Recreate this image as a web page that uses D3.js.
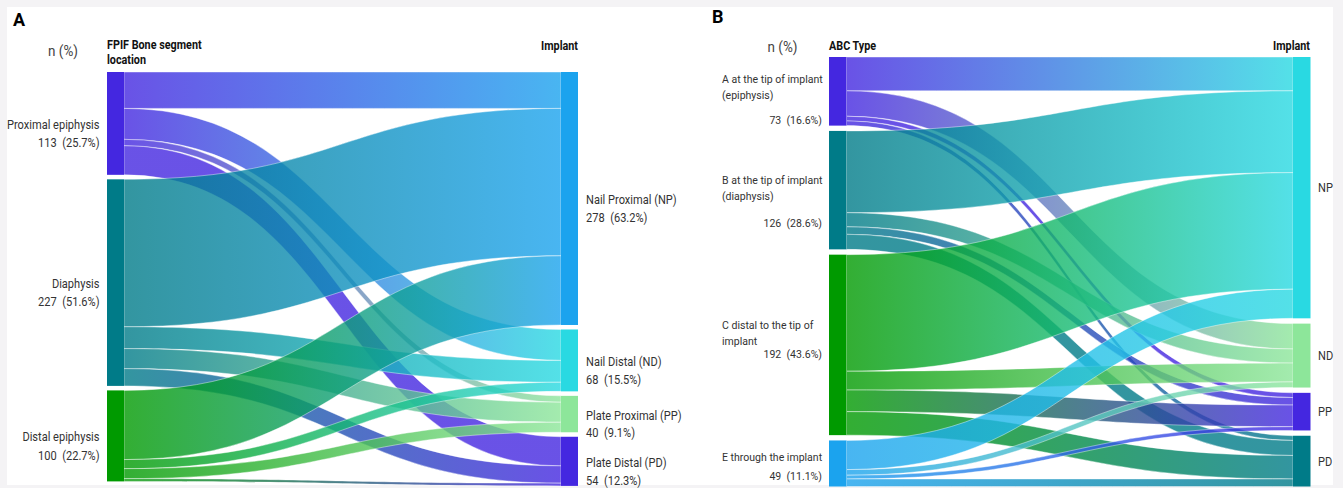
<!DOCTYPE html>
<html><head><meta charset="utf-8">
<script src="https://cdn.jsdelivr.net/npm/d3@7"></script>
<style>
body{margin:0;background:#fff}
svg{display:block}
text{font-family:Roboto,"Noto Sans",sans-serif}
</style>
</head><body>
<svg id="chart" width="1343" height="488"></svg>
<script>
// ---------- DATA ----------
// Panel A
const aSources = ["Proximal epiphysis", "Diaphysis", "Distal epiphysis"];
const aTargets = ["Nail Proximal (NP)", "Nail Distal (ND)", "Plate Proximal (PP)", "Plate Distal (PD)"];
// rows = sources, columns = targets (NP, ND, PP, PD)
const aProximal = [40, 34, 7, 32];
const aDiaphysis = [162, 24, 22, 19];
const aDistal = [76, 10, 11, 3];

// Panel B
const bSourceLines = [
  ["A at the tip of implant", "(epiphysis)"],
  ["B at the tip of implant", "(diaphysis)"],
  ["C distal to the tip of", "implant"],
  ["E through the implant"]
];
const bTargets = ["NP", "ND", "PP", "PD"];
const bTypeA = [36, 27, 5, 5];
const bTypeB = [87, 15, 8, 16];
const bTypeC = [124, 20, 23, 25];
const bTypeE = [31, 6, 4, 8];

// ---------- STYLE / LAYOUT ----------
const PURPLE = "#4427e0", TEAL = "#007b88", GREEN = "#009a00", BLUE = "#1ba3ee",
      CYAN = "#29d9e2", LGREEN = "#8de69a";
const SX = 0.9; // horizontal condensing of the font

const svg = d3.select("#chart");
svg.append("rect").attr("width", 1343).attr("height", 488).attr("fill", "#f4f3f5");
svg.append("rect").attr("x", 7).attr("y", 7).attr("width", 1326).attr("height", 478).attr("fill", "#fff");
const defs = svg.append("defs");
let gradId = 0;

function addText(g, x, y, str, o = {}) {
  return g.append("text")
    .attr("transform", `translate(${x},${y}) scale(${o.sx ?? SX},1)`)
    .attr("text-anchor", o.anchor || "start")
    .attr("dominant-baseline", "central")
    .attr("font-size", o.size || 12.3)
    .attr("font-weight", o.weight || 400)
    .attr("fill", o.color || "#333")
    .text(str);
}

function drawSankey(cfg) {
  const g = svg.append("g");
  const flows = cfg.flows;
  const nS = flows.length, nT = flows[0].length;
  const sVals = flows.map(r => d3.sum(r));
  const tVals = d3.range(nT).map(j => d3.sum(flows, r => r[j]));
  const total = d3.sum(sVals);
  const h = d3.scaleLinear().domain([0, total]).range([0, total * cfg.ky]);

  const stack = (vals, gap) => {
    let cum = 0;
    return vals.map((v, i) => {
      const y0 = cfg.top + h(cum) + i * gap;
      cum += v;
      return { y0, y1: y0 + h(v), value: v };
    });
  };
  const sNodes = stack(sVals, cfg.gapS);
  const tNodes = stack(tVals, cfg.gapT);
  sNodes.forEach((n, i) => n.color = cfg.sColors[i]);
  tNodes.forEach((n, j) => n.color = cfg.tColors[j]);

  const xs = cfg.xL + cfg.nodeW, xt = cfg.xR;
  const sOff = sNodes.map(n => n.y0);
  const tOff = tNodes.map(n => n.y0);
  const links = [];
  for (let i = 0; i < nS; i++) for (let j = 0; j < nT; j++) {
    const v = flows[i][j];
    if (!v) continue;
    const sy0 = sOff[i], ty0 = tOff[j];
    sOff[i] += h(v); tOff[j] += h(v);
    links.push({ i, j, sy0, sy1: sy0 + h(v), ty0, ty1: ty0 + h(v) });
  }
  const xm = (xs + xt) / 2;
  links.forEach(l => {
    const id = "lg" + (gradId++);
    const gr = defs.append("linearGradient").attr("id", id)
      .attr("gradientUnits", "userSpaceOnUse")
      .attr("x1", xs).attr("x2", xt).attr("y1", 0).attr("y2", 0);
    gr.append("stop").attr("offset", "0%").attr("stop-color", sNodes[l.i].color);
    gr.append("stop").attr("offset", "100%").attr("stop-color", tNodes[l.j].color);
    const p = d3.path();
    p.moveTo(xs, l.sy0);
    p.bezierCurveTo(xm, l.sy0, xm, l.ty0, xt, l.ty0);
    p.lineTo(xt, l.ty1);
    p.bezierCurveTo(xm, l.ty1, xm, l.sy1, xs, l.sy1);
    p.closePath();
    g.append("path").attr("d", p.toString())
      .attr("fill", `url(#${id})`).attr("fill-opacity", 0.8)
      .attr("stroke", "#fff").attr("stroke-opacity", 0.7).attr("stroke-width", 0.6);
  });
  g.selectAll("rect.s").data(sNodes).join("rect")
    .attr("x", cfg.xL).attr("y", d => d.y0).attr("width", cfg.nodeW)
    .attr("height", d => d.y1 - d.y0).attr("fill", d => d.color);
  g.selectAll("rect.t").data(tNodes).join("rect")
    .attr("x", xt).attr("y", d => d.y0).attr("width", cfg.nodeW)
    .attr("height", d => d.y1 - d.y0).attr("fill", d => d.color);
  return { g, sNodes, tNodes, total };
}

const pct = (v, t) => `${v}\u00a0\u00a0(${d3.format(".1f")(v / t * 100)}%)`;

// ---------- PANEL A ----------
const A = drawSankey({
  flows: [aProximal, aDiaphysis, aDistal],
  sColors: [PURPLE, TEAL, GREEN], tColors: [BLUE, CYAN, LGREEN, PURPLE],
  xL: 107, xR: 561, nodeW: 17, top: 72, ky: 0.91, gapS: 4.5, gapT: 4.5
});
addText(svg, 13, 19, "A", { size: 18, weight: 700, color: "#000", sx: 1 });
addText(svg, 63, 51, "n (%)", { size: 15, anchor: "middle", color: "#444" });
addText(svg, 107, 45, "FPIF Bone segment", { size: 12, weight: 700, color: "#111" });
addText(svg, 107, 59.5, "location", { size: 12, weight: 700, color: "#111" });
addText(svg, 578, 45.5, "Implant", { size: 12, weight: 700, color: "#111", anchor: "end" });
A.sNodes.forEach((n, i) => {
  const c = (n.y0 + n.y1) / 2;
  addText(svg, 99.5, c + 1, aSources[i], { anchor: "end" });
  addText(svg, 99.5, c + 19.5, pct(n.value, A.total), { anchor: "end" });
});
A.tNodes.forEach((n, j) => {
  const c = (n.y0 + n.y1) / 2;
  addText(svg, 586, c + 1.5, aTargets[j]);
  addText(svg, 586, c + 19, pct(n.value, A.total));
});

// ---------- PANEL B ----------
const B = drawSankey({
  flows: [bTypeA, bTypeB, bTypeC, bTypeE],
  sColors: [PURPLE, TEAL, GREEN, BLUE], tColors: [CYAN, LGREEN, PURPLE, TEAL],
  xL: 829, xR: 1293, nodeW: 17.5, top: 57, ky: 0.94, gapS: 5.3, gapT: 5.3
});
addText(svg, 712, 16, "B", { size: 18, weight: 700, color: "#000", sx: 1 });
addText(svg, 782.5, 46.5, "n (%)", { size: 15, anchor: "middle", color: "#444" });
addText(svg, 829, 45.5, "ABC Type", { size: 12, weight: 700, color: "#111" });
addText(svg, 1310, 45.5, "Implant", { size: 12, weight: 700, color: "#111", anchor: "end" });
const bNameDy = [-11.5, -9.5, -19.5, -6];
const bCountDy = [29.5, 33.5, 9.5, 13];
B.sNodes.forEach((n, i) => {
  const c = (n.y0 + n.y1) / 2;
  bSourceLines[i].forEach((s, k) =>
    addText(svg, 722, c + bNameDy[i] + k * 16, s, { size: 11.7 }));
  addText(svg, 822, c + bCountDy[i], pct(n.value, B.total), { anchor: "end", size: 11.7 });
});
B.tNodes.forEach((n, j) => {
  const c = (n.y0 + n.y1) / 2;
  addText(svg, 1318, c + 0.5, bTargets[j]);
});
</script>
</body></html>
